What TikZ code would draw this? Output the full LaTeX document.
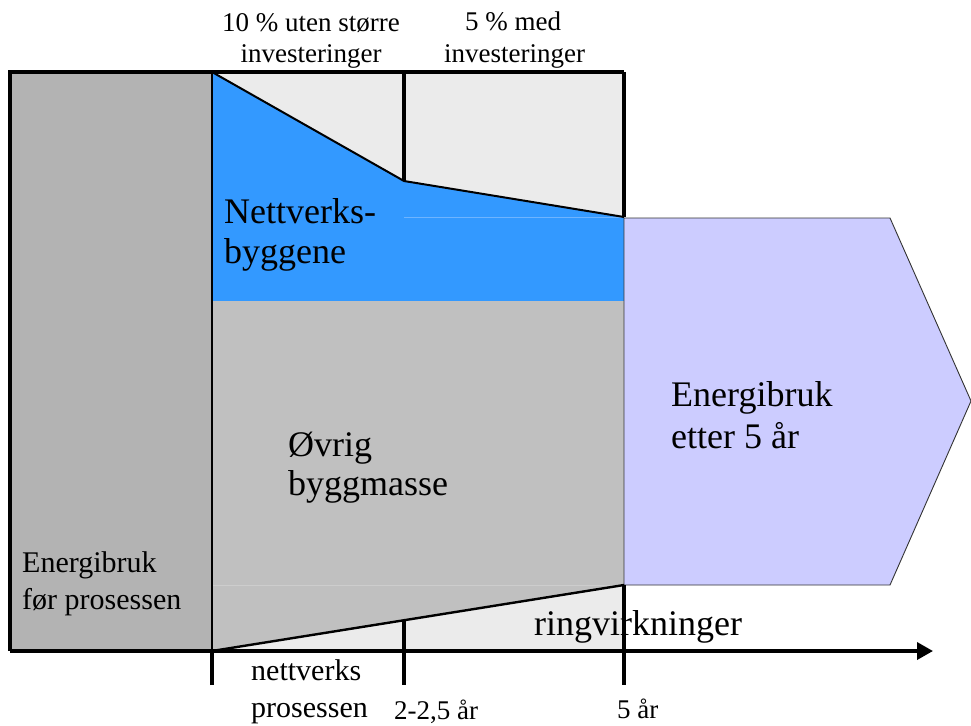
\documentclass[tikz,border=0pt]{standalone}
\usepackage{fontspec}
\setmainfont{Liberation Serif}
\usetikzlibrary{arrows.meta}
\definecolor{boxgray}{RGB}{179,179,179}
\definecolor{midgray}{RGB}{192,192,192}
\definecolor{palegray}{RGB}{235,235,235}
\definecolor{netblue}{RGB}{51,153,255}
\definecolor{lavender}{RGB}{204,204,255}
\definecolor{faintblue}{RGB}{110,180,255}
\definecolor{faintgray}{RGB}{205,205,205}
\begin{document}
\begin{tikzpicture}[x=1pt,y=-1pt,
  thickline/.style={line width=3.5pt},
  thinline/.style={line width=1.6pt},
  slopeline/.style={line width=2.4pt},
  lbl/.style={inner sep=0pt, anchor=base west},
  lblc/.style={inner sep=0pt, anchor=base},
  smalltxt/.style={font=\fontsize{27}{32}\selectfont},
  medtxt/.style={font=\fontsize{30}{36}\selectfont},
  bigtxt/.style={font=\fontsize{36}{43}\selectfont}]
\useasboundingbox (0,0) rectangle (971,725);
% key points
\coordinate (TL) at (10,72);
\coordinate (A) at (212,72);
\coordinate (B) at (404,72);
\coordinate (C) at (624,72);
\coordinate (BL) at (10,651);
\coordinate (D) at (212,651);
\coordinate (E) at (404,651);
\coordinate (F) at (624,651);
\coordinate (M1) at (404,181);
\coordinate (M2) at (624,217);
\coordinate (N1) at (212,301);
\coordinate (N2) at (624,301);
\coordinate (S1) at (624,585);
\coordinate (S0) at (404,620.2);
\coordinate (Dt) at (212,685);
\coordinate (Et) at (404,685);
\coordinate (Ft) at (624,685);
\coordinate (AxEnd) at (933,651);
\coordinate (P1) at (624,218);
\coordinate (P2) at (890,218);
\coordinate (P3) at (971,401);
\coordinate (P4) at (890,585);
% fills
\fill[palegray] (A) rectangle (F);
\fill[boxgray] (TL) rectangle (D);
\fill[netblue] (A) -- (M1) -- (M2) -- (N2) -- (N1) -- cycle;
\fill[midgray] (N1) -- (N2) -- (S1) -- (D) -- cycle;
\draw[faintblue, line width=0.8pt] (M1 |- M2) -- (M2);
\draw[faintgray, line width=0.8pt] (D |- S1) -- (S1);
% result arrow shape
\draw[fill=lavender, draw=black!80, line width=0.9pt] (P1) -- (P2) -- (P3) -- (P4) -- (S1) -- cycle;
% texts
\node[lbl, smalltxt] (t1a) at (222,32) {10 \% uten større};
\node[lblc, smalltxt] (t1b) at (311,63) {investeringer};
\node[lblc, smalltxt] (t2a) at (513,31) {5 \% med};
\node[lblc, smalltxt] (t2b) at (514.5,63) {investeringer};
\node[lbl, bigtxt] (n1) at (224,223) {Nettverks-};
\node[lbl, bigtxt] (n2) at (224,263) {byggene};
\node[lbl, bigtxt] (o1) at (288,456) {Øvrig};
\node[lbl, bigtxt] (o2) at (288,495) {byggmasse};
\node[lbl, bigtxt] (e1) at (671,406) {Energibruk};
\node[lbl, bigtxt] (e2) at (671,448) {etter 5 år};
\node[lbl, medtxt] (f1) at (22,572) {Energibruk};
\node[lbl, medtxt] (f2) at (22,609) {før prosessen};
\node[lbl, bigtxt] (ring) at (534,635) {ringvirkninger};
\node[lbl, medtxt] (b1) at (251,680) {nettverks};
\node[lbl, medtxt] (b2) at (251,717) {prosessen};
\node[lbl, smalltxt] (b3) at (394,719) {2-2,5 år};
\node[lbl, smalltxt] (b4) at (617,718) {5 år};
% lines
\draw[thinline] (A) -- (D);
\draw[thinline, line width=2pt, line join=miter] (A) -- (M1) -- (M2);
\draw[slopeline] (D) -- (S1);
\draw[thickline] (B) -- (M1);
\draw[thickline] (S0) -- (Et);
\draw[thickline] (C) -- (M2);
\draw[thickline] (S1) -- (Ft);
\draw[thickline] (Dt) -- (D);
\draw[thickline, line join=miter] (C) -- (TL) -- (BL);
\draw[thickline, -{Triangle[length=16pt,width=17pt]}] (BL) -- (AxEnd);
\end{tikzpicture}
\end{document}
